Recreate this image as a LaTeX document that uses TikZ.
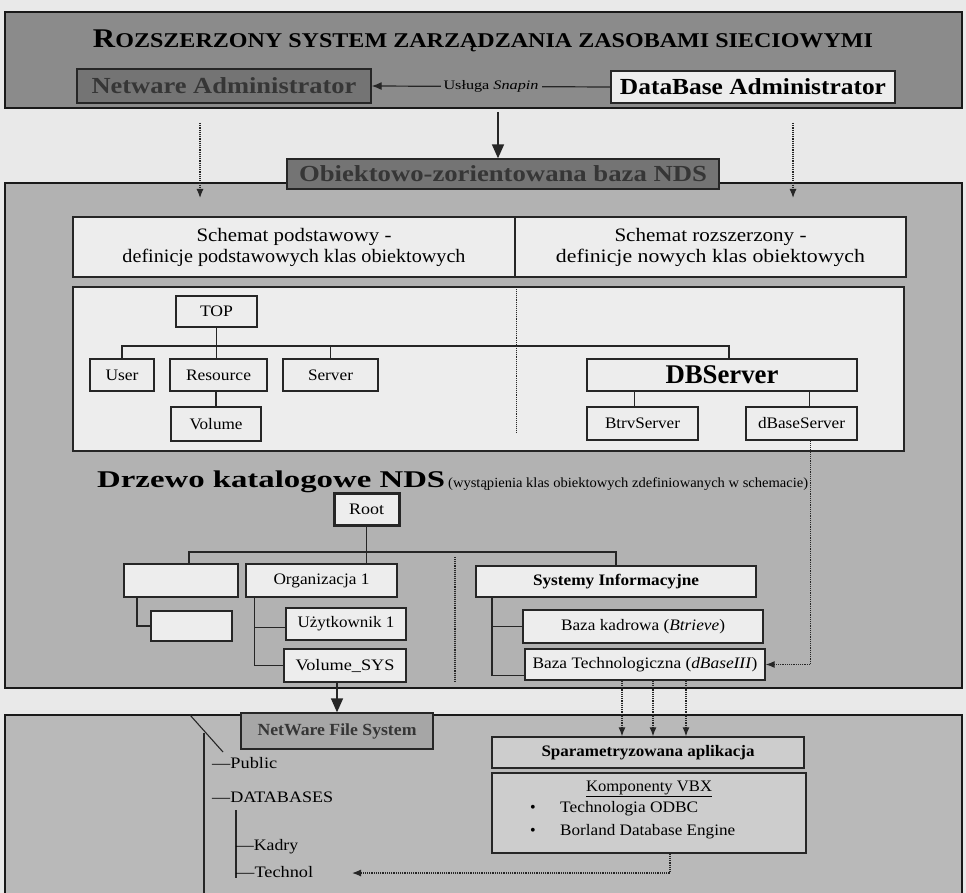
\documentclass[tikz,border=0pt]{standalone}
\usepackage{fontspec}
\setmainfont{Liberation Serif}
\usepackage{graphicx}
\usetikzlibrary{arrows.meta}
\newcommand\fitw[2]{\resizebox{#1}{\height}{#2}}
\definecolor{pagebg}{HTML}{E9E9E9}
\definecolor{bannerfill}{HTML}{8B8B8B}
\definecolor{darkbox}{HTML}{747474}
\definecolor{darktext}{HTML}{363636}
\definecolor{panelfill}{HTML}{B2B2B2}
\definecolor{lightbox}{HTML}{EDEDED}
\definecolor{botfill}{HTML}{B9B9B9}
\definecolor{nfsfill}{HTML}{A6A6A6}
\definecolor{appfill}{HTML}{CDCDCD}
\tikzset{
  box/.style={draw=black!85, line width=1.3pt, fill=lightbox, inner sep=0pt, text=black, font=\fontsize{16}{16}\selectfont},
  panelbox/.style={draw=black!90, line width=2pt, inner sep=0pt},
  ln/.style={line width=1.1pt, draw=black!85},
  dotln/.style={densely dotted, line width=1.1pt, draw=black!85},
  dotarr/.style={densely dotted, line width=1.2pt, draw=black!85, -{Latex[length=9pt,width=7pt]}},
  bigarr/.style={line width=1.5pt, draw=black!85, -{Triangle[length=14pt,width=12pt]}},
  lbl/.style={inner sep=0pt, font=\fontsize{16}{16}\selectfont}
}
\begin{document}
\begin{tikzpicture}[x=1pt,y=-1pt]
\useasboundingbox (0,0) rectangle (966,893);
\clip (0,0) rectangle (966,893);
\fill[pagebg] (0,0) rectangle (966,893);

% ---------- top banner ----------
\node[panelbox, line width=2.4pt, fill=bannerfill, minimum width=957pt, minimum height=96pt] (banner) at (483.5,60) {};
\node[inner sep=0pt, anchor=base] (title) at (483,48)
  {\bfseries\fitw{780pt}{{\fontsize{27}{27}\selectfont R}{\fontsize{21}{21}\selectfont OZSZERZONY SYSTEM ZARZĄDZANIA ZASOBAMI SIECIOWYMI}}};
\node[box, fill=darkbox, text=darktext, minimum width=294pt, minimum height=34pt, font=\fontsize{23}{23}\selectfont\bfseries] (netadm) at (224,86) {\fitw{265pt}{Netware Administrator}};
\node[box, fill=lightbox, minimum width=284pt, minimum height=32pt, font=\fontsize{23}{23}\selectfont\bfseries] (dbadm) at (753,87) {\fitw{266pt}{DataBase Administrator}};
\draw[ln, line width=1.2pt, -{Latex[length=10pt,width=8pt]}] (dbadm.west) -- node[fill=bannerfill, inner sep=3pt, font=\fontsize{13}{13}\selectfont]{\fitw{95pt}{Usługa \textit{Snapin}}} (netadm.east);

% ---------- NDS panel ----------
\node[panelbox, fill=panelfill, minimum width=957pt, minimum height=505pt] (panel) at (483.5,435.5) {};
\node[box, fill=darkbox, text=darktext, minimum width=432pt, minimum height=30pt, font=\fontsize{23}{23}\selectfont\bfseries] (obj) at (503,174) {\fitw{408pt}{Obiektowo-zorientowana baza NDS}};
\coordinate (bstart) at (498,112);
\draw[bigarr, line width=1.6pt] (bstart) -- (bstart |- obj.north);
\coordinate (dl1) at (200,123); \coordinate (dl2) at (200,198);
\coordinate (dr1) at (793,123); \coordinate (dr2) at (793,198);
\draw[dotarr] (dl1) -- (dl2);
\draw[dotarr] (dr1) -- (dr2);

% schema header
\node[box, minimum width=442pt, minimum height=60pt, align=center, font=\fontsize{19}{19}\selectfont] (schL) at (294,247)
  {\fitw{195pt}{Schemat podstawowy -}\\[2pt]\fitw{343pt}{definicje podstawowych klas obiektowych}};
\node[box, minimum width=391pt, minimum height=60pt, align=center, font=\fontsize{19}{19}\selectfont] (schR) at (710.5,247)
  {\fitw{192pt}{Schemat rozszerzony -}\\[2pt]\fitw{309pt}{definicje nowych klas obiektowych}};

% class tree
\node[box, minimum width=831pt, minimum height=164pt] (tree) at (488.5,369) {};
\coordinate (dv1) at (516,289); \coordinate (dv2) at (516,432);
\draw[dotln, line width=0.9pt] (dv1) -- (dv2);
\node[box, minimum width=81pt, minimum height=31pt] (top) at (216.5,311.5) {\fitw{33pt}{TOP}};
\node[box, minimum width=64pt, minimum height=32pt] (user) at (122,375) {\fitw{33pt}{User}};
\node[box, minimum width=97pt, minimum height=32pt] (res) at (218.5,375) {\fitw{65pt}{Resource}};
\node[box, minimum width=95pt, minimum height=32pt] (srv) at (330.5,375) {\fitw{45pt}{Server}};
\node[box, minimum width=90pt, minimum height=34pt] (vol) at (216,424) {\fitw{53pt}{Volume}};
\node[box, minimum width=270pt, minimum height=32pt, font=\fontsize{27}{27}\selectfont\bfseries] (dbs) at (722,375) {\fitw{113pt}{DBServer}};
\node[box, minimum width=111pt, minimum height=33pt] (btrv) at (642.5,423.5) {\fitw{75pt}{BtrvServer}};
\node[box, minimum width=111pt, minimum height=33pt] (dbase) at (801.5,423.5) {\fitw{87pt}{dBaseServer}};
\coordinate (hbar) at (0,346);
\coordinate (dbj) at (729,359);
\draw[ln] (top.south) -- (top.south |- res.north);
\draw[ln] (user.north) |- (dbj |- hbar) -- (dbj);
\draw[ln] (srv.north) -- (srv.north |- hbar);
\draw[ln] (vol.north) -- (vol.north |- res.south);
\draw[ln] ([xshift=-8pt]btrv.north) -- ([xshift=-8pt]btrv.north |- dbs.south);
\draw[ln] ([xshift=8pt]dbase.north) -- ([xshift=8pt]dbase.north |- dbs.south);

% directory tree
\node[inner sep=0pt, anchor=base west, font=\fontsize{24}{24}\selectfont\bfseries] (drz) at (97,487) {\fitw{348pt}{Drzewo katalogowe NDS}};
\node[inner sep=0pt, anchor=base west, font=\fontsize{14}{14}\selectfont] (drzsub) at (448,487) {\fitw{360pt}{(wystąpienia klas obiektowych zdefiniowanych w schemacie)}};
\node[box, line width=3pt, minimum width=65pt, minimum height=32pt] (root) at (366.5,509) {\fitw{35pt}{Root}};
\node[box, minimum width=114pt, minimum height=33pt] (e1) at (181,580.5) {};
\node[box, minimum width=151pt, minimum height=33pt] (org) at (321.5,580.5) {\fitw{96pt}{Organizacja 1}};
\node[box, minimum width=280pt, minimum height=31pt, font=\fontsize{16}{16}\selectfont\bfseries] (sys) at (616,581.5) {\fitw{166pt}{Systemy Informacyjne}};
\node[box, minimum width=81pt, minimum height=30pt] (e2) at (191.5,626) {};
\node[box, minimum width=120pt, minimum height=32pt] (uzyt) at (346,624) {\fitw{97pt}{Użytkownik 1}};
\node[box, minimum width=122pt, minimum height=33pt] (vsys) at (345,665.5) {\fitw{99pt}{Volume\_SYS}};
\node[box, minimum width=240pt, minimum height=33pt] (bk) at (643,626.5) {\fitw{164pt}{Baza kadrowa (\textit{Btrieve})}};
\node[box, minimum width=240pt, minimum height=31pt] (bt) at (645,664.5) {\fitw{225pt}{Baza Technologiczna (\textit{dBaseIII})}};
\coordinate (rbar) at (0,552);
\draw[ln] (root.south) -- (root.south |- org.north);
\draw[ln] ([xshift=8pt]e1.north) |- (sys.north |- rbar) -- (sys.north);
\draw[ln] ([xshift=-44pt]e1.south) |- (e2.west);
\draw[ln, line width=0.9pt] ([xshift=-67.5pt]org.south) |- ([yshift=-3pt]uzyt.west);
\draw[ln, line width=0.9pt] ([xshift=-67.5pt]org.south) |- (vsys.west);
\draw[ln] ([xshift=-124pt]sys.south) |- (bk.west);
\draw[ln] ([xshift=-124pt]sys.south) |- ([yshift=-11pt]bt.west);
\coordinate (dv3) at (455,557); \coordinate (dv4) at (455,681);
\draw[dotln] (dv3) -- (dv4);
\draw[dotarr] ([xshift=9pt]dbase.south) |- (bt.east);

% ---------- bottom panel ----------
\node[panelbox, fill=botfill, minimum width=957pt, minimum height=200pt] (bot) at (483.5,815) {};
\node[box, fill=nfsfill, text=darktext, minimum width=192pt, minimum height=36pt, font=\fontsize{17}{17}\selectfont\bfseries] (nfs) at (337,731) {\fitw{159pt}{NetWare File System}};
\draw[bigarr] ([xshift=-8pt]vsys.south) -- (nfs.north);
\coordinate (s1) at (190,715); \coordinate (s2) at (223,752);
\draw[ln] (s1) -- (s2);
\coordinate (v1) at (204,733); \coordinate (v2) at (204,900);
\draw[ln] (v1) -- (v2);
\node[lbl, anchor=west] (pub) at (212,763) {\fitw{65pt}{—Public}};
\node[lbl, anchor=west] (dbases) at (212,797) {\fitw{121pt}{—DATABASES}};
\coordinate (v3) at (236,810); \coordinate (v4) at (236,878);
\draw[ln] (v3) -- (v4);
\node[lbl, anchor=west] (kadry) at (236,847) {\fitw{62pt}{—Kadry}};
\node[lbl, anchor=west] (technol) at (236,872) {\fitw{77pt}{—Technol}};

\node[box, fill=appfill, minimum width=312pt, minimum height=31pt, font=\fontsize{16}{16}\selectfont\bfseries] (spar) at (648,752.5) {\fitw{213pt}{Sparametryzowana aplikacja}};
\node[box, fill=appfill, minimum width=314pt, minimum height=80pt] (komp) at (649,813) {};
\node[lbl] (kvbx) at (649,789) {\fitw{126pt}{\underline{Komponenty VBX}}};
\node[lbl] (b1) at (533,809) {\textbullet};
\node[lbl, anchor=west] (odbc) at (560,809) {\fitw{138pt}{Technologia ODBC}};
\node[lbl] (b2) at (533,832) {\textbullet};
\node[lbl, anchor=west] (bde) at (560,832) {\fitw{175pt}{Borland Database Engine}};
\draw[dotarr] ([xshift=-23pt]bt.south) -- ([xshift=-23pt]bt.south |- spar.north);
\draw[dotarr] ([xshift=8pt]bt.south) -- ([xshift=8pt]bt.south |- spar.north);
\draw[dotarr] ([xshift=41pt]bt.south) -- ([xshift=41pt]bt.south |- spar.north);
\coordinate (tarr) at (352,873);
\draw[dotarr] ([xshift=21pt]komp.south) |- (tarr);
\end{tikzpicture}
\end{document}
